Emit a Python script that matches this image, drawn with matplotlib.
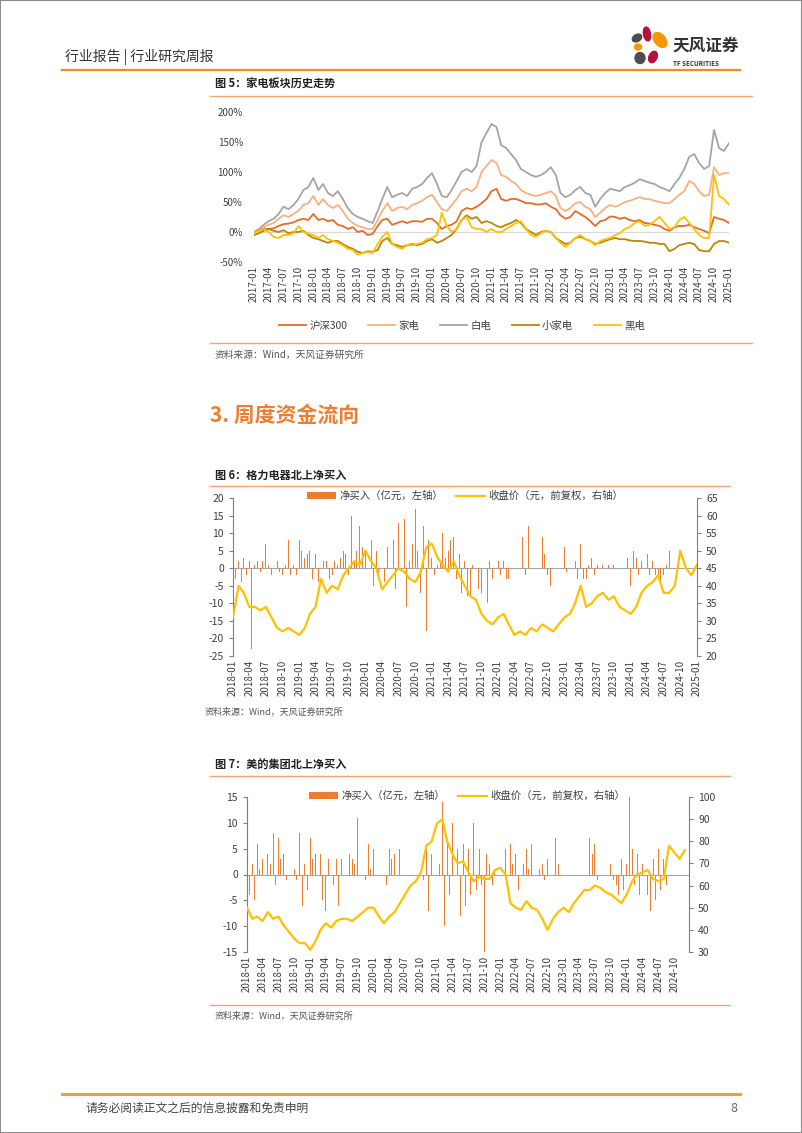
import pandas as pd
import matplotlib
matplotlib.use('Agg')
import matplotlib.pyplot as plt
import matplotlib.dates as mdates
from matplotlib.lines import Line2D
from matplotlib.patches import Ellipse, Rectangle

plt.rcParams['font.family'] = ['Noto Sans CJK SC', 'DejaVu Sans']
plt.rcParams['axes.unicode_minus'] = False

# ---------------- data: 图5 家电板块历史走势 (monthly, %, 2017-01 .. 2025-01) ----------------
hs300 = [0, 3, 5, 5, 6, 10, 13, 14, 16, 20, 22, 20,
         30, 20, 22, 18, 20, 12, 10, 5, 8, 0, 2, -5,
         -3, 10, 20, 22, 12, 15, 18, 15, 18, 18, 17, 22,
         22, 15, 5, 10, 12, 18, 35, 40, 38, 42, 48, 55,
         68, 72, 55, 52, 55, 55, 52, 48, 48, 46, 46, 48,
         42, 38, 28, 22, 25, 35, 30, 25, 18, 10, 18, 20,
         26, 25, 22, 24, 20, 18, 20, 15, 14, 12, 10, 5,
         2, 8, 10, 10, 12, 8, 5, 2, -2, 25, 22, 20,
         15]
jiadian = [0, 4, 8, 12, 15, 22, 28, 25, 30, 35, 45, 48,
           60, 45, 55, 45, 40, 45, 35, 22, 15, 10, 8, 5,
           5, 20, 35, 48, 35, 40, 42, 38, 45, 48, 52, 58,
           62, 50, 38, 35, 45, 55, 68, 72, 68, 75, 100, 110,
           120, 115, 95, 92, 85, 80, 70, 65, 62, 60, 62, 65,
           68, 60, 40, 35, 40, 48, 50, 42, 38, 25, 32, 40,
           45, 42, 45, 50, 52, 55, 58, 55, 55, 52, 50, 48,
           48, 55, 62, 68, 85, 80, 68, 60, 62, 108, 95, 98,
           98]
baidian = [0, 5, 12, 18, 22, 30, 42, 38, 45, 55, 70, 75,
           90, 70, 80, 65, 60, 68, 55, 40, 30, 25, 22, 18,
           15, 35, 55, 75, 58, 62, 65, 60, 72, 75, 80, 90,
           98, 80, 60, 58, 70, 85, 100, 105, 100, 110, 150, 165,
           180, 175, 145, 140, 130, 120, 105, 100, 95, 92, 95, 100,
           108, 95, 65, 58, 62, 70, 75, 65, 62, 42, 55, 65,
           72, 70, 68, 75, 78, 82, 88, 85, 82, 80, 75, 72,
           68, 80, 90, 105, 125, 130, 115, 105, 110, 170, 140, 135,
           148]
xiaojiadian = [-5, -2, 2, 5, 2, 0, 3, -2, 0, 0, 2, -5,
               -10, -12, -15, -18, -15, -15, -20, -25, -28, -33, -35, -32,
               -33, -30, -15, -10, -20, -22, -25, -22, -20, -22, -20, -15,
               -12, -18, -15, -10, -5, 5, 20, 28, 22, 25, 15, 18,
               15, 10, 8, 12, 15, 20, 15, 5, 0, -5, 0, 2,
               0, -10, -15, -20, -18, -10, -8, -12, -15, -20, -18, -15,
               -12, -10, -12, -12, -14, -15, -15, -16, -18, -18, -20, -20,
               -32, -28, -22, -20, -18, -20, -30, -32, -32, -20, -15, -15,
               -18]
heidian = [0, 2, 5, 0, -8, -10, -5, -5, -2, 10, 0, -3,
           -5, -10, -5, -12, -15, -18, -22, -28, -30, -38, -35, -33,
           -35, -20, -8, 0, -20, -25, -28, -22, -22, -20, -18, -12,
           -10, -5, 32, 10, 0, 5, 20, 25, 8, 5, 5, 0,
           5, 0, 0, 5, 10, 15, 18, 5, -5, -8, -2, 2,
           0, -10, -18, -25, -18, -10, -5, -12, -15, -22, -15, -12,
           -10, -5, -2, 5, 8, 15, 18, 10, 12, 18, 25, 15,
           5, 8, 20, 25, 15, 5, -5, -10, -10, 95, 60, 55,
           45]
series5_names = ['沪深300', '家电', '白电', '小家电', '黑电']
y5_ticks = [-50, 0, 50, 100, 150, 200]
y5_labels = ['-50%', '0%', '50%', '100%', '150%', '200%']

# ---------------- data: 图6 格力电器北上净买入 ----------------
# closing price, monthly 2018-01 .. 2025-01
gree_price = [31, 40, 38, 34, 34, 33, 34, 31, 28, 27, 28, 27,
              26, 28, 32, 34, 42, 38, 40, 39, 43, 45, 47, 46,
              50, 47, 45, 39, 41, 43, 45, 44, 42, 41, 44, 51,
              52, 48, 46, 44, 47, 43, 40, 37, 36, 32, 30, 29,
              31, 32, 29, 26, 27, 26, 28, 27, 29, 28, 27, 29,
              31, 32, 35, 40, 34, 35, 37, 38, 36, 37, 34, 33,
              32, 34, 38, 40, 41, 43, 38, 38, 40, 50, 45, 43,
              46]
# net buying, half-monthly 2018-01 .. 2024-12
gree_flow = [9, -3, 2, -4, 3, -2, 2, -23, 1, 2, -1, 2, 7, 1, -2, 1, 2, -1, -2, 1, 8, -2, 1, -2,
             8, 5, 3, 4, 5, -3, 4, -4, -6, 2, 2, -3, -2, 2, 1, 3, 5, 4, -2, 15, 2, 5, 12, 6,
             4, 10, 8, -5, 5, -3, 8, -4, 6, 3, 8, -6, 13, -14, 14, -11, 2, 7, 17, 5, -7, 12, -18, 8,
             3, -2, 1, 2, 10, 3, 5, 8, 9, -3, 4, -7, 2, -8, -8, 1, -9, -6, -7, -12, -10, 2, -3, 1,
             2, -2, 2, -3, -3, 0, 0, 0, 0, 9, -2, 12, -5, 0, 0, 0, 9, 4, -2, -5, 0, 0, 0, 0,
             6, -1, 0, 0, 2, -3, 7, -3, -3, 1, 3, -2, 1, 0, 1, 0, 1, 0, 1, 0, 0, 0, 3, 3,
             -5, 5, 3, -2, 2, -3, 4, -2, 2, -2, -3, -4, -2, 1, 5, 0, 0, 0, 0, 0, 0, 0, 0, 0]
gree_left_ticks = [-25, -20, -15, -10, -5, 0, 5, 10, 15, 20]
gree_right_ticks = [20, 25, 30, 35, 40, 45, 50, 55, 60, 65]

# ---------------- data: 图7 美的集团北上净买入 ----------------
# closing price, monthly 2018-01 .. 2024-12
midea_price = [50, 45, 46, 44, 48, 45, 46, 42, 39, 36, 34, 34,
               31, 35, 40, 43, 41, 44, 45, 45, 44, 46, 48, 50,
               50, 46, 43, 46, 48, 52, 56, 60, 62, 66, 78, 80,
               88, 90, 80, 74, 70, 71, 66, 62, 64, 63, 63, 67,
               68, 65, 52, 50, 49, 53, 50, 49, 45, 40, 45, 48,
               50, 48, 52, 55, 58, 58, 60, 59, 57, 56, 54, 52,
               56, 62, 65, 66, 67, 63, 62, 63, 78, 75, 72, 76]
# net buying, half-monthly 2018-01 .. 2024-12
midea_flow = [4, -4, 2, -5, 6, 1, 3, -3, 4, 2, 8, -2, 7, 3, 4, -1, 0, 0, 1, -1, 8, -6, 2, -3,
              7, 3, 4, 5, 4, -5, -7, 3, 5, -2, 3, -6, 3, 2, 5, 4, 3, 2, 11, 4, 2, -1, 6, 1,
              5, -14, 0, 0, 10, -2, 5, 3, 4, 2, 5, 0, 0, 0, 0, 0, 0, 0, 1, -1, 6, -7, 4, 3,
              8, 2, 14, -10, 6, -4, 10, 5, 5, -8, 6, -6, 5, -4, 10, -3, 5, -2, -15, 4, 2, -2, 1, 0,
              0, 0, 5, 3, 6, 2, 4, -3, 3, 2, 5, 1, 6, -2, 3, 1, 2, -1, 3, 1, 12, 7, 2, 0,
              0, 0, 0, 0, 0, 0, 0, 0, 0, 0, 7, 4, 6, -1, 0, 0, 0, 0, 2, -1, -2, -4, 3, -3,
              2, 15, 5, -2, 4, -4, 2, -6, -4, -7, 3, -5, 5, -3, 3, -2, 0, 0, 0, 0, 0, 0, 0, 0]
midea_left_ticks = [-15, -10, -5, 0, 5, 10, 15]
midea_right_ticks = [30, 40, 50, 60, 70, 80, 90, 100]

flow_label = '净买入（亿元，左轴）'
price_label = '收盘价（元，前复权，右轴）'

# ---------------- page layout ----------------
W, H = 802, 1133
ORANGE = '#ED7D31'
GOLD = '#FFC000'
TXT = '#404040'

fig = plt.figure(figsize=(W / 100, H / 100), dpi=100)


def box(x0, y0, x1, y1):
    return [x0 / W, 1 - y1 / H, (x1 - x0) / W, (y1 - y0) / H]


def hline(x0, x1, y, color, lw):
    fig.add_artist(Line2D([x0 / W, x1 / W], [1 - y / H, 1 - y / H], color=color, lw=lw))


def text(x, y, s, **kw):
    kw.setdefault('va', 'center')
    fig.text(x / W, 1 - y / H, s, **kw)


fig.add_artist(Rectangle((0, 0), 1, 1, transform=fig.transFigure, fill=False, ec='#8c8c8c', lw=1.5))

# header
text(65, 57, '行业报告 | 行业研究周报', fontsize=10, color='#333333')
hline(62, 740, 70, '#EE8A2B', 1.6)
logo = fig.add_axes(box(630, 24, 670, 68))
logo.set_xlim(0, 40)
logo.set_ylim(44, 0)
logo.axis('off')
for (cx, cy, w, h, ang, col) in [(17, 10, 7, 14, -10, '#B5123A'), (30, 16, 11, 17, -40, '#F39800'),
                                  (7, 14, 10, 7, -30, '#4d4d4d'), (8, 23, 7, 6, 0, '#F39800'),
                                  (10, 34, 10, 11, 0, '#4d4d4d'), (23, 33, 8, 12, 25, '#B5123A')]:
    logo.add_patch(Ellipse((cx, cy), w, h, angle=ang, color=col))
text(672, 46, '天风证券', fontsize=12, fontweight='bold', color='#333333')
text(673, 63, 'TF SECURITIES', fontsize=4.5, fontweight='bold', color='#333333')

# ---------------- 图5 ----------------
text(215, 84, '图 5：家电板块历史走势', fontsize=8, fontweight='bold', color='#222222')
hline(210, 752, 96, '#F2A66E', 1.0)

dates5 = pd.date_range('2017-01-01', periods=len(hs300), freq='MS')
ax5 = fig.add_axes(box(254, 112, 729, 262))
ax5.patch.set_alpha(0)
ax5.axhline(0, color='#D9D9D9', lw=0.8, zorder=0)
colors5 = ['#E46C2A', '#F4B183', '#A5A5A5', '#B8860B', GOLD]
order5 = [2, 1, 0, 3, 4]
data5 = [hs300, jiadian, baidian, xiaojiadian, heidian]
lines5 = {}
for i in order5:
    ln, = ax5.plot(dates5, data5[i], color=colors5[i], lw=1.3, label=series5_names[i])
    lines5[i] = ln
ax5.set_ylim(-50, 200)
ax5.set_yticks(y5_ticks)
ax5.set_yticklabels(y5_labels)
ax5.set_xlim(dates5[0], dates5[-1])
ax5.xaxis.set_major_locator(mdates.MonthLocator(bymonth=[1, 4, 7, 10]))
ax5.xaxis.set_major_formatter(mdates.DateFormatter('%Y-%m'))
ax5.tick_params(axis='x', rotation=90, labelsize=7, length=0, pad=3, labelcolor=TXT)
ax5.tick_params(axis='y', labelsize=7, length=0, pad=8, labelcolor=TXT)
for s in ax5.spines.values():
    s.set_visible(False)
fig.legend([lines5[i] for i in range(5)], series5_names, loc='center',
           bbox_to_anchor=(462 / W, 1 - 326 / H), ncol=5, frameon=False, fontsize=7.5,
           handlelength=2.6, columnspacing=2.0, handletextpad=0.3, labelcolor=TXT)
hline(210, 752, 343, '#F2A66E', 1.0)
text(215, 355, '资料来源：Wind，天风证券研究所', fontsize=7, color='#555555')

# section heading
text(210, 415, '3. 周度资金流向', fontsize=15, fontweight='bold', color=ORANGE)


def flow_chart(rect, flow, flow_start, price, price_start, xend, lticks, rticks, leg_xy):
    ax = fig.add_axes(box(*rect))
    ax.patch.set_alpha(0)
    fd = pd.date_range(flow_start, periods=len(flow), freq='SMS')
    pdts = pd.date_range(price_start, periods=len(price), freq='MS')
    bars = ax.bar(fd, flow, width=5, color=ORANGE, label=flow_label, zorder=2)
    ax.axhline(0, color='#A6A6A6', lw=0.8, zorder=1)
    ax.set_ylim(lticks[0], lticks[-1])
    ax.set_yticks(lticks)
    axb = ax.twinx()
    ln, = axb.plot(pdts, price, color=GOLD, lw=1.6, label=price_label)
    axb.set_ylim(rticks[0], rticks[-1])
    axb.set_yticks(rticks)
    ax.set_xlim(pd.Timestamp(flow_start), pd.Timestamp(xend))
    ax.xaxis.set_major_locator(mdates.MonthLocator(bymonth=[1, 4, 7, 10]))
    ax.xaxis.set_major_formatter(mdates.DateFormatter('%Y-%m'))
    ax.tick_params(axis='x', rotation=90, labelsize=7, length=0, pad=3, labelcolor=TXT)
    ax.tick_params(axis='y', labelsize=7.5, length=3, color='#7F7F7F', labelcolor=TXT)
    axb.tick_params(axis='y', labelsize=7.5, length=3, color='#7F7F7F', labelcolor=TXT)
    for a in (ax, axb):
        a.spines['top'].set_visible(False)
        a.spines['bottom'].set_visible(False)
    ax.spines['right'].set_visible(False)
    axb.spines['left'].set_visible(False)
    ax.spines['left'].set_color('#7F7F7F')
    axb.spines['right'].set_color('#7F7F7F')
    fig.legend([bars, ln], [flow_label, price_label], loc='center',
               bbox_to_anchor=(leg_xy[0] / W, 1 - leg_xy[1] / H), ncol=2, frameon=False,
               fontsize=7.5, handlelength=2.8, columnspacing=1.2, handletextpad=0.3,
               labelcolor=TXT)


# ---------------- 图6 ----------------
text(215, 475, '图 6：格力电器北上净买入', fontsize=8, fontweight='bold', color='#222222')
hline(210, 730, 486, '#F2A66E', 1.0)
flow_chart((233, 498, 697, 656), gree_flow, '2018-01-01', gree_price, '2018-01-01',
           '2025-01-01', gree_left_ticks, gree_right_ticks, (465, 496))
text(205, 712, '资料来源：Wind，天风证券研究所', fontsize=6.5, color='#555555')

# ---------------- 图7 ----------------
text(215, 765, '图 7：美的集团北上净买入', fontsize=8, fontweight='bold', color='#222222')
hline(210, 730, 776, '#F2A66E', 1.0)
flow_chart((247, 797, 689, 952), midea_flow, '2018-01-01', midea_price, '2018-01-01',
           '2024-12-25', midea_left_ticks, midea_right_ticks, (467, 796))
hline(210, 730, 1005, '#F2A66E', 1.0)
text(215, 1016, '资料来源：Wind，天风证券研究所', fontsize=6.5, color='#555555')

# footer
hline(62, 740, 1094, '#E8A33A', 2.2)
text(85, 1108, '请务必阅读正文之后的信息披露和免责申明', fontsize=8.5, color='#444444')
text(737, 1108, '8', fontsize=9, color='#666666', ha='right')

fig.savefig('out.png', dpi=100)
